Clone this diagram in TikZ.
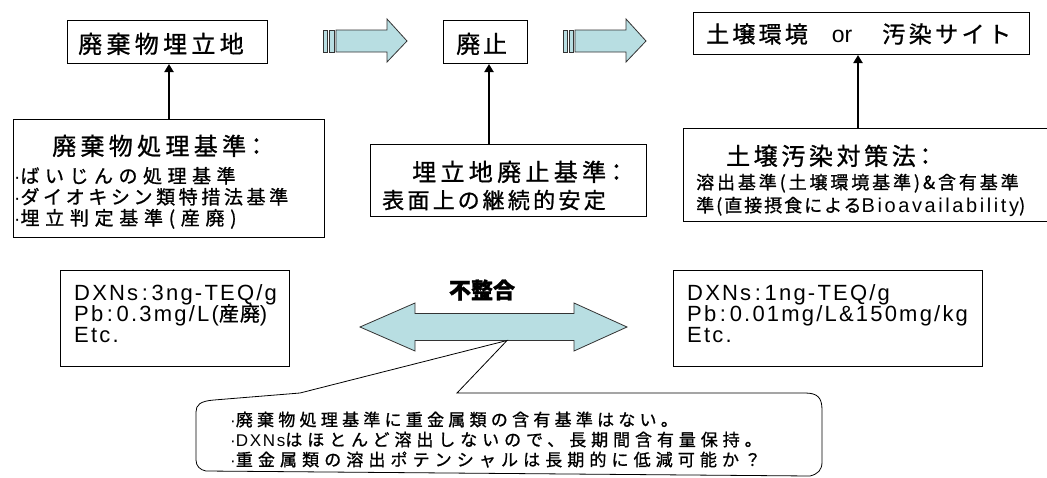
\documentclass[tikz,border=0pt]{standalone}
\usepackage{fontspec}
\usetikzlibrary{arrows.meta,calc}
\newfontfamily\jpf[FakeBold=1]{Noto Sans CJK JP}
\newfontfamily\jpp[RawFeature={+palt},FakeBold=1]{Noto Sans CJK JP}
\newfontfamily\arf{Liberation Sans}
\newcommand\J[2]{\jpf\fontsize{#1pt}{#1pt}\selectfont\addfontfeatures{LetterSpace=#2}}
\newcommand\JP[2]{\jpp\fontsize{#1pt}{#1pt}\selectfont\addfontfeatures{LetterSpace=#2}}
\newcommand\A[2]{\arf\fontsize{#1pt}{#1pt}\selectfont\addfontfeatures{LetterSpace=#2}}
\definecolor{arrowfill}{RGB}{184,222,226}
\begin{document}
\begin{tikzpicture}[x=1pt,y=-1pt,
  box/.style={draw, line width=1pt, inner sep=0pt, anchor=north west},
  txt/.style={inner sep=0pt, anchor=base west},
  vert/.style={line width=2pt, -{Triangle[width=9pt,length=8pt]}},
  fat/.style={draw=black!80, line width=0.8pt, fill=arrowfill, line join=miter}]
\clip (0,0) rectangle (1047,477);
% boxes
\node[box, minimum width=200pt, minimum height=43pt] (A) at (67,20) {};
\node[box, minimum width=311pt, minimum height=118pt] (B) at (13,119) {};
\node[box, minimum width=84pt, minimum height=43pt] (C) at (443,20) {};
\node[box, minimum width=276pt, minimum height=72pt] (D) at (370,144) {};
\node[box, minimum width=336pt, minimum height=42pt] (E) at (693,12) {};
\node[box, minimum width=372pt, minimum height=93pt] (F) at (683,128) {};
\node[box, minimum width=229pt, minimum height=96pt] (G) at (60,270) {};
\node[box, minimum width=309pt, minimum height=96pt] (H) at (673,270) {};
% vertical arrows
\draw[vert] (B.north) -- (B.north |- A.south);
\coordinate (dtop) at ($(D.north west)+(119,0)$);
\draw[vert] (dtop) -- (dtop |- C.south);
\coordinate (ftop) at ($(F.north west)+(175,0)$);
\draw[vert] (ftop) -- (ftop |- E.south);
% fat arrows
\draw[fat] (323,30) rectangle (327,52);
\draw[fat] (329,30) rectangle (334,52);
\draw[fat] (336,30) -- (387,30) -- (387,19) -- (407,41) -- (387,62) -- (387,52) -- (336,52) -- cycle;
\draw[fat] (563,30) rectangle (567,52);
\draw[fat] (569,30) rectangle (573,52);
\draw[fat] (575,30) -- (626,30) -- (626,19) -- (646,41) -- (626,62) -- (626,52) -- (575,52) -- cycle;
% double arrow
\draw[fat] (360,327) -- (415,303) -- (415,313.5) -- (574,313.5) -- (574,303) -- (627,327)
  -- (574,351) -- (574,340.5) -- (415,340.5) -- (415,351) -- cycle;
\node[inner sep=0pt] (mis) at (482,290) {\jpf\bfseries\fontsize{22pt}{22pt}\selectfont\addfontfeatures{FakeBold=1.5}不整合};
% callout
\draw[line width=0.8pt, fill=white] (300,393) -- (507,340.5) -- (457,393) -- (805,393)
  .. controls (818,393) and (822,398) .. (822,410) -- (822,462)
  .. controls (822,470) and (818,474) .. (810,476) -- (206,471)
  .. controls (200,470) and (196,466) .. (196,460) -- (196,412)
  .. controls (196,405) and (200,401) .. (214,400) -- cycle;
% texts
\node[txt] (tA) at (78,53) {\J{24}{18}廃棄物埋立地};
\node[txt] (tC) at (456,53) {\J{24}{12}廃止};
\node[txt] (tE) at (706,42.7) {{\J{23}{14}土壌環境}\hspace{24pt}{\A{23}{0}or}\hspace{30pt}{\J{23}{15}汚染サイト}};
\node[txt] (tB0) at (52,155) {\JP{24}{18}廃棄物処理基準：};
\node[txt] (tB1) at (14,183) {{\A{19}{0}·}{\J{19}{29}ばいじんの処理基準}};
\node[txt] (tB2) at (14,204) {{\A{19}{0}·}{\J{19}{19}ダイオキシン類特措法基準}};
\node[txt] (tB3) at (14,225) {{\A{19}{0}·}{\J{19}{30}埋立判定基準(産廃)}};
\node[txt] (tD0) at (412,181) {\JP{24}{18}埋立地廃止基準：};
\node[txt] (tD1) at (382,208.4) {\JP{22}{15}表面上の継続的安定};
\node[txt] (tF0) at (726,165) {\JP{24}{15}土壌汚染対策法：};
\node[txt] (tF1) at (696,189) {\J{18}{16}溶出基準(土壌環境基準)\&含有基準};
\node[txt] (tF2) at (696,212) {{\J{18}{11}準(直接摂食による}{\A{20}{13}Bioavailability}{\J{18}{11})}};
\node[txt] (tG0) at (74,300) {\A{22}{10}DXNs\,:\,3ng-TEQ/g};
\node[txt] (tG1) at (74,321) {{\A{22}{10}Pb\,:\,0.3mg/L(}{\J{20}{5}産廃}{\A{22}{10})}};
\node[txt] (tG2) at (74,342) {\A{22}{10}Etc.};
\node[txt] (tH0) at (687,300) {\A{22}{10}DXNs\,:\,1ng-TEQ/g};
\node[txt] (tH1) at (687,321) {\A{22}{10}Pb\,:\,0.01mg/L\&150mg/kg};
\node[txt] (tH2) at (687,342) {\A{22}{10}Etc.};
\node[txt] (tK0) at (230,426) {{\A{17}{0}·}{\J{17}{25}廃棄物処理基準に重金属類の含有基準はない。}};
\node[txt] (tK1) at (230,446) {{\A{17}{0}·}{\A{17}{10}DXNs}{\J{17}{29}はほとんど溶出しないので、長期間含有量保持。}};
\node[txt] (tK2) at (230,466) {{\A{17}{0}·}{\J{17}{30}重金属類の溶出ポテンシャルは長期的に低減可能か？}};
\end{tikzpicture}
\end{document}
